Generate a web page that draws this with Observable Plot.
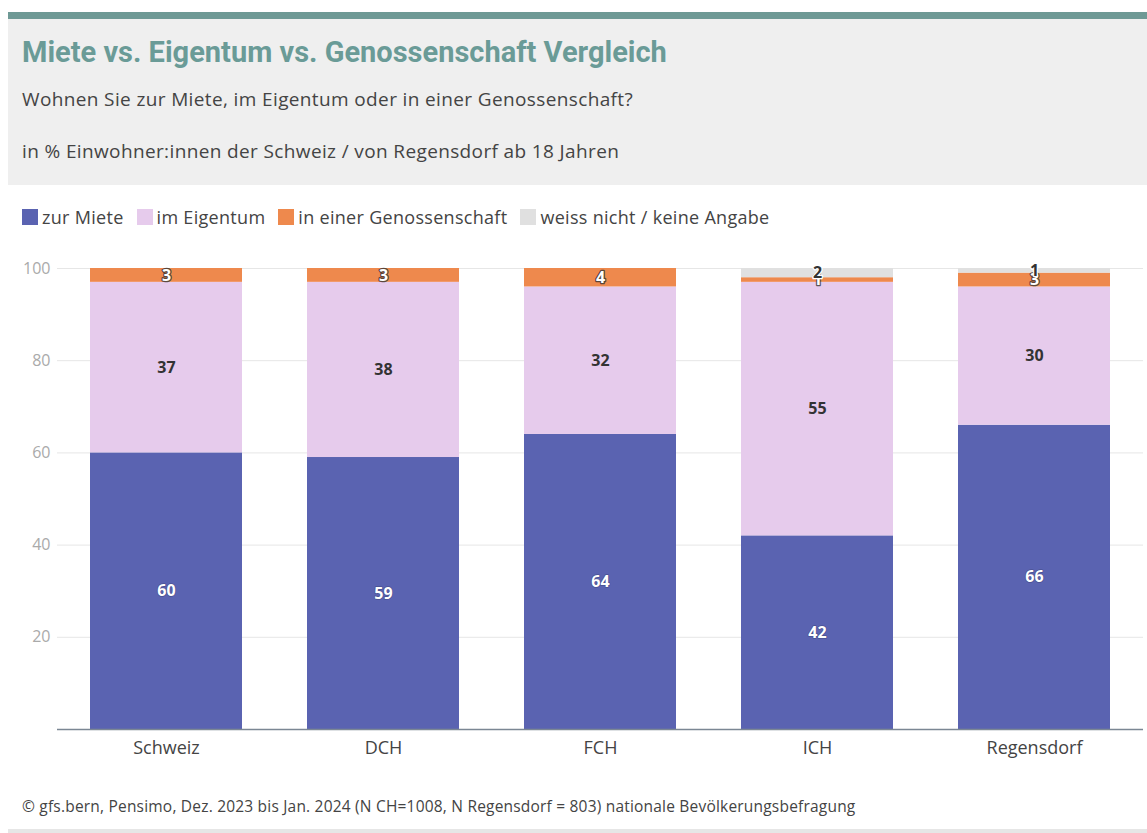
<!DOCTYPE html>
<html>
<head>
<meta charset="utf-8">
<script src="https://cdn.jsdelivr.net/npm/d3@7"></script>
<script src="https://cdn.jsdelivr.net/npm/@observablehq/plot@0.6"></script>
<style>
  html, body { margin: 0; padding: 0; background: #fff; }
  body { width: 1147px; height: 833px; overflow: hidden; font-family: "Open Sans", Roboto, sans-serif; color: #444; }
  #topbar { position: absolute; left: 8px; top: 12px; width: 1139px; height: 7px; background: #6e9995; }
  #header { position: absolute; left: 8px; top: 19px; width: 1139px; height: 166px; background: #efefef; }
  #title { position: absolute; left: 14px; top: 16px; font-family: Roboto, sans-serif; font-size: 29px; font-weight: 700; color: #6a9b97; white-space: nowrap; }
  #sub1 { position: absolute; left: 14px; top: 67px; font-size: 19px; letter-spacing: 0.37px; color: #444; white-space: nowrap; }
  #sub2 { position: absolute; left: 14px; top: 119px; font-size: 19px; letter-spacing: 0.37px; color: #444; white-space: nowrap; }
  #legend { position: absolute; left: 22px; top: 205px; font-size: 18px; letter-spacing: 0.3px; color: #444; display: flex; align-items: center; white-space: nowrap; }
  .item { display: flex; align-items: center; margin-right: 13px; }
  .sw { width: 16px; height: 16px; margin-right: 4px; }
  #chart { position: absolute; left: 0; top: 245px; }
  #caption { position: absolute; left: 22px; top: 795px; font-size: 15.5px; letter-spacing: 0.2px; color: #444; white-space: nowrap; }
  #bottomline { position: absolute; left: 8px; top: 829px; width: 1139px; height: 4px; background: #e6e6e6; }
</style>
</head>
<body>
<div id="topbar"></div>
<div id="header">
  <div id="title">Miete vs. Eigentum vs. Genossenschaft Vergleich</div>
  <div id="sub1">Wohnen Sie zur Miete, im Eigentum oder in einer Genossenschaft?</div>
  <div id="sub2">in % Einwohner:innen der Schweiz / von Regensdorf ab 18 Jahren</div>
</div>
<div id="legend"></div>
<div id="chart"></div>
<div id="caption">© gfs.bern, Pensimo, Dez. 2023 bis Jan. 2024 (N CH=1008, N Regensdorf = 803) nationale Bevölkerungsbefragung</div>
<div id="bottomline"></div>
<script>
const regions = ["Schweiz", "DCH", "FCH", "ICH", "Regensdorf"];
const seriesNames = ["zur Miete", "im Eigentum", "in einer Genossenschaft", "weiss nicht / keine Angabe"];
const seriesColors = ["#5a63b1", "#e6cbec", "#ee894d", "#e0e0e0"];
const miete = [60, 59, 64, 42, 66];
const eigentum = [37, 38, 32, 55, 30];
const genossenschaft = [3, 3, 4, 1, 3];
const weissNicht = [0, 0, 0, 2, 1];
const yTicks = [20, 40, 60, 80, 100];

const seriesValues = [miete, eigentum, genossenschaft, weissNicht];
const data = [];
regions.forEach((r, i) => {
  seriesNames.forEach((s, j) => {
    const v = seriesValues[j][i];
    if (v > 0) data.push({region: r, series: s, value: v});
  });
});

// legend
const legend = document.getElementById("legend");
seriesNames.forEach((s, j) => {
  const it = document.createElement("div");
  it.className = "item";
  it.innerHTML = `<span class="sw" style="background:${seriesColors[j]}"></span><span>${s}</span>`;
  legend.appendChild(it);
});

const stackOpts = {x: "region", y: "value", z: "series", order: seriesNames};

const chart = Plot.plot({
  width: 1147,
  height: 528,
  marginLeft: 57,
  marginRight: 4,
  marginTop: 23,
  marginBottom: 44,
  style: {fontFamily: "'Open Sans', Roboto, sans-serif", fontSize: "16px", background: "transparent"},
  x: {domain: regions, paddingInner: 0.3, paddingOuter: 0.15, label: null},
  y: {domain: [0, 100], label: null},
  color: {domain: seriesNames, range: seriesColors},
  marks: [
    Plot.ruleY(yTicks, {stroke: "#e6e6e6", strokeWidth: 1}),
    Plot.axisY({ticks: yTicks, tickSize: 0, tickPadding: 7, fill: "#aaa", fontSize: 16, label: null}),
    Plot.axisX({tickSize: 0, tickPadding: 12, fill: "#444", fontSize: 18, label: null}),
    Plot.barY(data, Plot.stackY({...stackOpts, fill: "series", inset: 0})),
    Plot.ruleY([0], {stroke: "#7b8794", strokeWidth: 1.5}),
    Plot.text(data, Plot.stackY({...stackOpts, text: d => d.series === "zur Miete" ? String(d.value) : null,
      fill: "white", stroke: "#2a2f55", strokeWidth: 1.5, strokeOpacity: 0.35, fontWeight: 700, fontSize: 16})),
    Plot.text(data, Plot.stackY({...stackOpts, text: d => d.series === "im Eigentum" ? String(d.value) : null,
      fill: "#333", fontWeight: 700, fontSize: 16})),
    Plot.text(data, Plot.stackY({...stackOpts, text: d => d.series === "in einer Genossenschaft" ? String(d.value) : null,
      fill: "white", stroke: "#333", strokeWidth: 2.5, strokeOpacity: 0.8, fontWeight: 700, fontSize: 16})),
    Plot.text(data, Plot.stackY({...stackOpts, text: d => d.series === "weiss nicht / keine Angabe" ? String(d.value) : null,
      fill: "#333", stroke: "white", strokeWidth: 2.5, fontWeight: 700, fontSize: 16}))
  ]
});
document.getElementById("chart").appendChild(chart);
</script>
</body>
</html>
